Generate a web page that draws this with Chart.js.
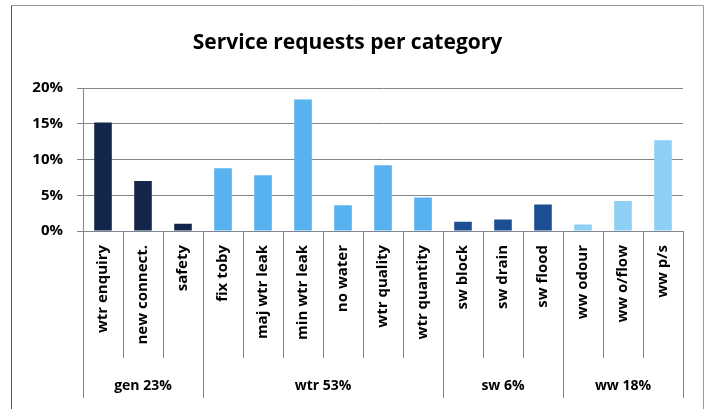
<!DOCTYPE html>
<html>
<head>
<meta charset="utf-8">
<script src="https://cdn.jsdelivr.net/npm/chart.js@4"></script>
<style>
  html, body { margin: 0; padding: 0; background: #fff; }
  #wrap { width: 706px; height: 409px; }
</style>
</head>
<body>
<div id="wrap"><canvas id="chart" width="706" height="409"></canvas></div>
<script>
const categories = ['wtr enquiry', 'new connect.', 'safety',
  'fix toby', 'maj wtr leak', 'min wtr leak', 'no water', 'wtr quality', 'wtr quantity',
  'sw block', 'sw drain', 'sw flood',
  'ww odour', 'ww o/flow', 'ww p/s'];
const values = [15.2, 7.0, 1.0, 8.8, 7.8, 18.4, 3.6, 9.2, 4.7, 1.3, 1.6, 3.7, 0.9, 4.2, 12.7];
const groupLabels = ['gen 23%', 'wtr 53%', 'sw 6%', 'ww 18%'];
const groupSizes = [3, 6, 3, 3];
const groupColors = ['#14264b', '#57b2ef', '#1d4f95', '#8dcff5'];
const yTicks = [0, 5, 10, 15, 20];

// one colour per bar, from its group
const barColors = [];
groupSizes.forEach((n, g) => { for (let i = 0; i < n; i++) barColors.push(groupColors[g]); });

const FONT = '"Open Sans", Lato, sans-serif';

// frame, category separators and group labels under the x axis
const groupAxis = {
  id: 'groupAxis',
  beforeDraw(chart) {
    const ctx = chart.ctx;
    ctx.save();
    ctx.strokeStyle = '#9a9aa6';
    ctx.lineWidth = 1;
    ctx.beginPath();
    ctx.moveTo(11.5, 409); ctx.lineTo(11.5, 5.5); ctx.lineTo(703.5, 5.5); ctx.lineTo(703.5, 409);
    ctx.stroke();
    ctx.strokeStyle = '#555';
    ctx.beginPath();
    ctx.moveTo(11.5, 409); ctx.lineTo(11.5, 5.5);
    ctx.stroke();
    ctx.restore();
  },
  afterDraw(chart) {
    const ctx = chart.ctx;
    const x = chart.scales.x;
    const top = chart.chartArea.bottom;
    const edge = i => i === 0 ? x.left : (i >= categories.length ? x.right
      : (x.getPixelForValue(i - 1) + x.getPixelForValue(i)) / 2);
    const bounds = [0];
    groupSizes.forEach(n => bounds.push(bounds[bounds.length - 1] + n));
    ctx.save();
    ctx.strokeStyle = '#7d8592';
    ctx.lineWidth = 1;
    for (let i = 0; i <= categories.length; i++) {
      const px = Math.round(edge(i)) + 0.5;
      const end = bounds.includes(i) ? 398 : 358;
      ctx.beginPath();
      ctx.moveTo(px, top);
      ctx.lineTo(px, end);
      ctx.stroke();
    }
    ctx.fillStyle = '#000';
    ctx.font = 'bold 14px ' + FONT;
    ctx.textAlign = 'center';
    ctx.textBaseline = 'middle';
    groupLabels.forEach((lab, g) => {
      const cx = (edge(bounds[g]) + edge(bounds[g + 1])) / 2;
      ctx.fillText(lab, cx, 386);
    });
    ctx.restore();
  }
};

new Chart(document.getElementById('chart'), {
  type: 'bar',
  data: {
    labels: categories,
    datasets: [{
      data: values,
      backgroundColor: barColors,
      barPercentage: 0.44,
      categoryPercentage: 1
    }]
  },
  options: {
    responsive: false,
    animation: false,
    layout: { padding: { left: 12, right: 23, top: 0, bottom: 11 } },
    plugins: {
      legend: { display: false },
      tooltip: { enabled: false },
      title: {
        display: true,
        text: 'Service requests per category',
        color: '#000',
        font: { family: FONT, size: 21, weight: 'bold' },
        padding: { top: 30, bottom: 33 }
      }
    },
    scales: {
      x: {
        grid: { display: false, drawTicks: false },
        border: { display: true, color: '#7d8592' },
        ticks: {
          color: '#000',
          font: { family: FONT, size: 15, weight: 'bold' },
          minRotation: 90,
          maxRotation: 90,
          autoSkip: false,
          padding: 14
        },
        afterFit(scale) { scale.height = 167; }
      },
      y: {
        min: 0,
        max: 20,
        afterBuildTicks(scale) { scale.ticks = yTicks.map(v => ({ value: v })); },
        grid: { color: '#858585', tickLength: 6 },
        border: { display: true, color: '#858585' },
        ticks: {
          color: '#000',
          font: { family: FONT, size: 15, weight: 'bold' },
          padding: 14,
          callback: v => v + '%'
        },
        afterFit(scale) { scale.width = 71; }
      }
    }
  },
  plugins: [groupAxis]
});
</script>
</body>
</html>
